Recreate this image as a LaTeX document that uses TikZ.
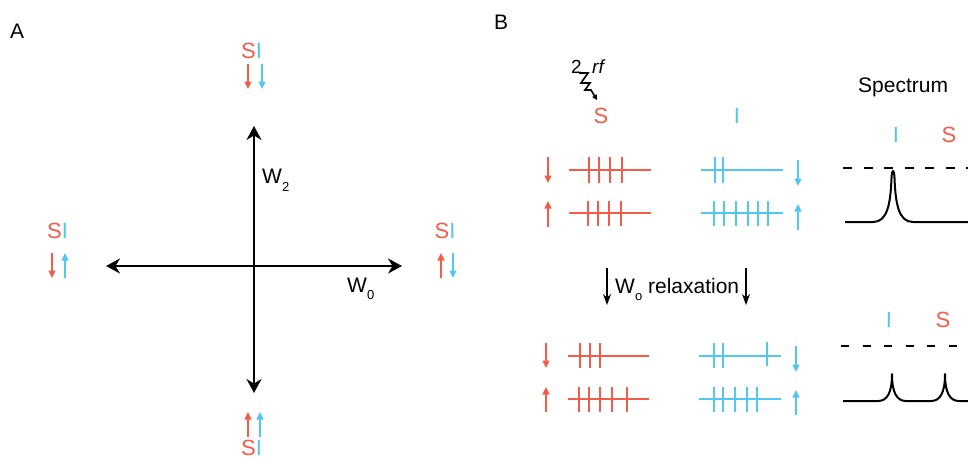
\documentclass[tikz,border=0pt]{standalone}
\usepackage{fontspec}
\setmainfont{Liberation Sans}
\usetikzlibrary{arrows.meta}
\definecolor{sred}{RGB}{242,92,72}
\definecolor{iblue}{RGB}{82,200,240}
\tikzset{
 lbl/.style={inner sep=0pt, font=\fontsize{22}{24}\selectfont},
 txt/.style={inner sep=0pt, font=\fontsize{21}{24}\selectfont},
 spin/.style={line width=1.3pt, -{Triangle[length=7.5pt,width=7pt]}},
 axis/.style={line width=2pt, {Stealth[length=14pt,width=15pt]}-{Stealth[length=14pt,width=15pt]}},
 level/.style={line width=2.3pt},
 tick/.style={line width=2pt},
 relax/.style={line width=1.5pt, -{Stealth[length=11pt,width=8pt]}},
 spec/.style={line width=2pt, line join=round},
 dashline/.style={line width=2pt},
}
\newcommand{\SIlab}{\textcolor{sred}{S}\textcolor{iblue}{I}}
\newcommand{\subsc}[2]{{\fontsize{13}{13}\selectfont\raisebox{-#1pt}{#2}}}
\begin{document}
\begin{tikzpicture}[x=1pt,y=-1pt]
\useasboundingbox (0,0) rectangle (968,458);
% ---------------- Panel A ----------------
\node[txt, anchor=base west] (labA) at (10,38) {A};
\coordinate (o) at (254,266);
\coordinate (axT) at (254,126);
\coordinate (axB) at (254,393);
\coordinate (axL) at (106,266);
\coordinate (axR) at (402,266);
\draw[axis] (axL) -- (axR);
\draw[axis] (axT) -- (axB);
\node[txt, anchor=base west] (w2) at (262,183) {W\subsc{8}{2}};
\node[txt, anchor=base west] (w0) at (347,292) {W\subsc{7}{0}};
% top
\node[lbl, anchor=base] (siT) at (251.5,58) {\SIlab};
\draw[spin, sred] (248,64) -- (248,89);
\draw[spin, iblue] (262,64) -- (262,89);
% left
\node[lbl, anchor=base] (siL) at (57.5,238) {\SIlab};
\draw[spin, sred] (52,253) -- (52,278);
\draw[spin, iblue] (65,278) -- (65,253);
% right
\node[lbl, anchor=base] (siR) at (445,238) {\SIlab};
\draw[spin, sred] (441,278) -- (441,253);
\draw[spin, iblue] (453,253) -- (453,278);
% bottom
\draw[spin, sred] (248,437) -- (248,412);
\draw[spin, iblue] (260,437) -- (260,412);
\node[lbl, anchor=base] (siB) at (251.5,455) {\SIlab};
% ---------------- Panel B ----------------
\node[txt, anchor=base west] (labB) at (494,29) {B};
\node[inner sep=0pt, font=\fontsize{19}{20}\selectfont, anchor=base west] (two) at (571,73) {2};
\node[inner sep=0pt, font=\fontsize{19}{20}\selectfont\itshape, anchor=base west] (rf) at (592,73) {rf};
\draw[line width=1.6pt, line join=miter, -{Triangle[length=5pt,width=5pt]}]
  (579,73) -- (588,73) -- (581,83) -- (590,83) -- (585,90) -- (591,90) -- (597,100);
\node[lbl, anchor=base, text=sred] (sTop) at (601,123) {S};
\node[lbl, anchor=base, text=iblue] (iTop) at (737,123) {I};
% upper level sets
\draw[spin, sred] (548,157) -- (548,183);
\draw[level, sred] (569,170) -- (651,170);
\foreach \x in {589,599,610,622} \draw[tick, sred] (\x,157) -- (\x,183);
\draw[spin, sred] (548,227) -- (548,201);
\draw[level, sred] (569,213) -- (651,213);
\foreach \x in {588,598,609,621} \draw[tick, sred] (\x,201) -- (\x,226);
\draw[level, iblue] (701,170) -- (783,170);
\foreach \x in {715,723} \draw[tick, iblue] (\x,157) -- (\x,183);
\draw[spin, iblue] (798,160) -- (798,186);
\draw[level, iblue] (701,213) -- (783,213);
\foreach \x in {714,724,736,748,758,768} \draw[tick, iblue] (\x,201) -- (\x,226);
\draw[spin, iblue] (798,230) -- (798,204);
% relaxation
\draw[relax] (607,268) -- (607,305);
\node[txt, anchor=base west] (relaxlab) at (615,293) {W\subsc{7}{o} relaxation};
\draw[relax] (746,268) -- (746,305);
% lower level sets
\draw[spin, sred] (546,343) -- (546,368);
\draw[level, sred] (568,356) -- (649,356);
\foreach \x in {580,590,600} \draw[tick, sred] (\x,343) -- (\x,368);
\draw[spin, sred] (546,412) -- (546,387);
\draw[level, sred] (568,399) -- (649,399);
\foreach \x in {579,589,600,612,627} \draw[tick, sred] (\x,387) -- (\x,412);
\draw[level, iblue] (699,356) -- (781,356);
\foreach \x in {714,723} \draw[tick, iblue] (\x,343) -- (\x,368);
\draw[tick, iblue] (767,342) -- (767,366);
\draw[spin, iblue] (796,346) -- (796,372);
\draw[level, iblue] (699,399) -- (781,399);
\foreach \x in {714,723,735,747,757} \draw[tick, iblue] (\x,387) -- (\x,412);
\draw[spin, iblue] (796,415) -- (796,390);
% spectrum
\node[txt, anchor=base west] (spectrum) at (858,92) {Spectrum};
\node[lbl, anchor=base, text=iblue] (iSp1) at (896,142) {I};
\node[lbl, anchor=base, text=sred] (sSp1) at (949,142) {S};
\draw[dashline, dash pattern=on 9pt off 11.5pt] (843,168) -- (968,168);
\draw[spec] (845,222) -- (873,222) .. controls (887,222) and (890.5,205) .. (891.5,178)
  .. controls (892,168.5) and (894,168.5) .. (894.5,178)
  .. controls (895.5,205) and (899,222) .. (913,222) -- (968,222);
\node[lbl, anchor=base, text=iblue] (iSp2) at (889,327) {I};
\node[lbl, anchor=base, text=sred] (sSp2) at (943,327) {S};
\draw[dashline, dash pattern=on 8pt off 13.5pt] (841,346) -- (968,346);
\draw[spec] (843,401) -- (878,401) .. controls (887,401) and (892,393) .. (892,374)
  .. controls (892,393) and (897,401) .. (906,401) -- (931,401)
  .. controls (940,401) and (945,393) .. (945,374)
  .. controls (945,393) and (950,401) .. (959,401) -- (968,401);
\end{tikzpicture}
\end{document}
